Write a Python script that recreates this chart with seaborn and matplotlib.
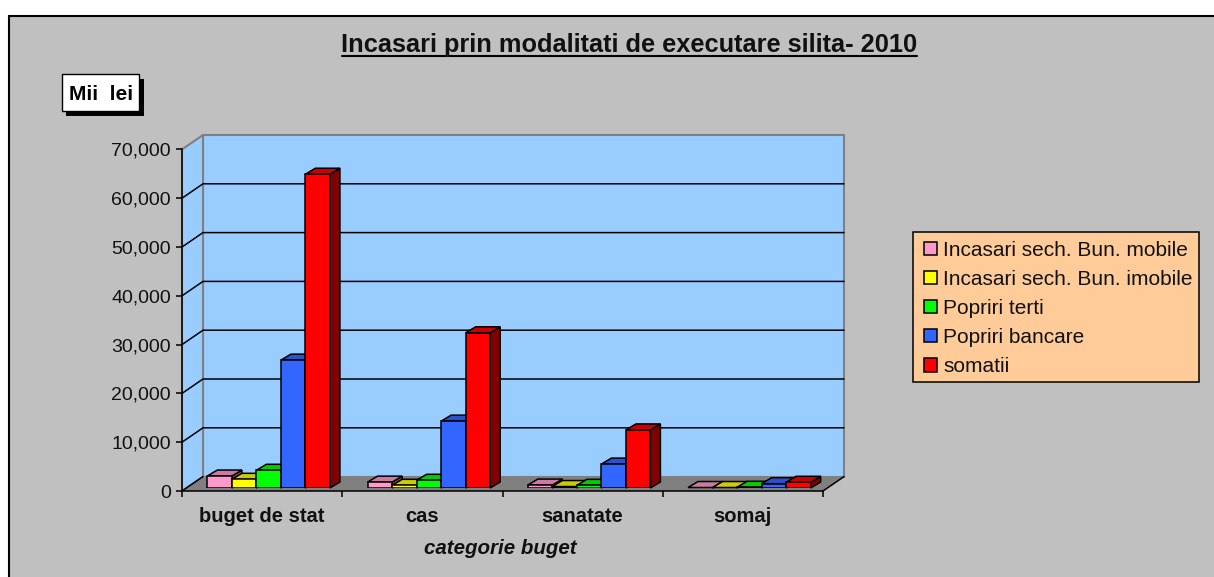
import matplotlib
matplotlib.use('Agg')
import matplotlib.pyplot as plt
import pandas as pd
import seaborn as sns
from matplotlib.patches import Polygon, Rectangle
from matplotlib.lines import Line2D

W, H = 1214, 577

categories = ['buget de stat', 'cas', 'sanatate', 'somaj']
series = ['Incasari sech. Bun. mobile', 'Incasari sech. Bun. imobile',
          'Popriri terti', 'Popriri bancare', 'somatii']
mobile = [2450, 1200, 600, 100]
imobile = [1780, 550, 300, 100]
terti = [3630, 1580, 550, 150]
bancare = [26200, 13700, 4900, 880]
somatii = [64300, 31800, 11900, 1170]
y_ticks = [0, 10000, 20000, 30000, 40000, 50000, 60000, 70000]

front_colors = ['#FF99CC', '#FFFF00', '#00FF00', '#3366FF', '#FF0000']
top_colors = ['#CC7AA3', '#CCCC00', '#00CC00', '#2952CC', '#CC0000']
side_colors = ['#804D66', '#808000', '#008000', '#1A3380', '#800000']

rows = []
for name, vals in zip(series, [mobile, imobile, terti, bancare, somatii]):
    for cat, v in zip(categories, vals):
        rows.append({'categorie': cat, 'serie': name, 'valoare': v})
df = pd.DataFrame(rows)

sns.set_theme(style='white')
plt.rcParams['font.family'] = ['Liberation Sans', 'DejaVu Sans']

fig = plt.figure(figsize=(W / 100, H / 100), dpi=100, facecolor='white')


def box(x0, y_top, x1, y_bot):
    # pixel box (y from the top) to figure fractions
    return [x0 / W, 1 - y_bot / H, (x1 - x0) / W, (y_bot - y_top) / H]


# grey chart area, right and bottom edges run off the canvas
fig.add_artist(Rectangle((9 / W, -0.1), 1.2, 1.1 - 15.5 / H, transform=fig.transFigure,
                         facecolor='#C0C0C0', edgecolor='black', linewidth=1.5, zorder=-5))

ax = fig.add_axes(box(182, 149.4, 823, 491), facecolor='none', zorder=1)
bars_ax = fig.add_axes(box(188.5, 146.4, 829.5, 488), facecolor='none', zorder=2)

sns.barplot(df, x='categorie', y='valoare', hue='serie', hue_order=series, order=categories,
            palette=front_colors, saturation=1, width=0.765, gap=0, edgecolor='black',
            linewidth=1.1, ax=bars_ax)
handles, labels = bars_ax.get_legend_handles_labels()
bars_ax.get_legend().remove()
bars_ax.set_xlim(-0.5, 3.5)
bars_ax.set_ylim(0, 70000)
bars_ax.axis('off')

px_x = 641 / 4
px_y = 341.6 / 70000

# bar depth: side and top faces built from the seaborn bars
dx, dy = 10 / px_x, 6 / px_y
for j, cont in enumerate(bars_ax.containers):
    for bar in cont:
        x0, x1, h = bar.get_x(), bar.get_x() + bar.get_width(), bar.get_height()
        bar.set_zorder(10 + 3 * j)
        bars_ax.add_patch(Polygon([(x1, 0), (x1 + dx, dy), (x1 + dx, h + dy), (x1, h)],
                                  facecolor=side_colors[j], edgecolor='black', linewidth=1.1,
                                  clip_on=False, zorder=9 + 3 * j))
        bars_ax.add_patch(Polygon([(x0, h), (x0 + dx, h + dy), (x1 + dx, h + dy), (x1, h)],
                                  facecolor=top_colors[j], edgecolor='black', linewidth=1.1,
                                  clip_on=False, zorder=9 + 3 * j))

# walls and floor
ax.set_xlim(-0.5, 3.5)
ax.set_ylim(0, 70000)
wx, wy = 21 / px_x, 14.4 / px_y
ax.add_patch(Rectangle((-0.5 + wx, wy), 4, 70000, facecolor='#99CCFF', edgecolor='#808080',
                       linewidth=1.5, clip_on=False, zorder=0))
ax.add_patch(Polygon([(-0.5, 0), (-0.5 + wx, wy), (-0.5 + wx, 70000 + wy), (-0.5, 70000)],
                     facecolor='#99CCFF', edgecolor='#808080', linewidth=1.5, clip_on=False, zorder=0))
ax.add_patch(Polygon([(-0.5, 0), (-0.5 + wx, wy), (3.5 + wx, wy), (3.5, 0)],
                     facecolor='#808080', edgecolor='none', clip_on=False, zorder=0.5))
for t in y_ticks[1:-1]:
    ax.add_line(Line2D([-0.5, -0.5 + wx, 3.5 + wx], [t, t + wy, t + wy], color='black',
                       linewidth=1.1, clip_on=False, zorder=1))
ax.add_line(Line2D([-0.5, -0.5 + wx], [0, wy], color='black', linewidth=1.1, clip_on=False, zorder=1))
ax.add_line(Line2D([3.5, 3.5 + wx], [0, wy], color='black', linewidth=1.1, clip_on=False, zorder=1))

# axes, ticks
sns.despine(ax=ax, top=True, right=True)
for side in ['left', 'bottom']:
    ax.spines[side].set_color('black')
    ax.spines[side].set_linewidth(1.1)
ax.set_yticks(y_ticks, [f'{t:,}' for t in y_ticks])
ax.set_xticks([-0.5, 0.5, 1.5, 2.5, 3.5], [''] * 5)
ax.set_xticks([0, 1, 2, 3], categories, minor=True)
ax.tick_params(axis='y', left=True, length=4, width=1.1, color='black', labelsize=14,
               labelcolor='#111111', pad=4)
ax.tick_params(axis='x', which='major', bottom=True, length=4, width=1.1, color='black')
ax.tick_params(axis='x', which='minor', bottom=False, labelsize=14.5, pad=7.5)
for lab in ax.get_xticklabels(minor=True):
    lab.set_fontweight('bold')
    lab.set_color('#111111')
ax.set_xlabel('categorie buget', fontsize=14.8, fontweight='bold', fontstyle='italic',
              color='#111111', va='center')
ax.xaxis.set_label_coords((500 - 182) / 641, -(548 - 491) / 341.6)
ax.set_ylabel('')

# legend: box drawn to its own size, frameless legend placed inside it
fig.add_artist(Rectangle((913 / W, 1 - 382 / H), 286 / W, 149.5 / H, transform=fig.transFigure,
                         facecolor='#FFCC99', edgecolor='black', linewidth=1.1))
leg = fig.legend(handles, labels, loc='upper left', bbox_to_anchor=(924 / W, 1 - 240.5 / H),
                 borderaxespad=0, borderpad=0, fontsize=15, frameon=False,
                 handlelength=0.6, handleheight=0.6, handletextpad=0.33, labelspacing=0.49,
                 labelcolor='#111111')
for patch in leg.get_patches():
    patch.set_edgecolor('black')
    patch.set_linewidth(1.1)

# title with underline
fig.text(629.5 / W, 1 - 52 / H, 'Incasari prin modalitati de executare silita- 2010', ha='center',
         va='baseline', fontsize=18.3, fontweight='bold', color='#111111')
fig.add_artist(Line2D([342 / W, 917 / W], [1 - 56 / H, 1 - 56 / H], color='black', linewidth=1.5))

# "Mii lei" box with shadow
fig.add_artist(Rectangle((66 / W, 1 - 116 / H), 78 / W, 37 / H, transform=fig.transFigure,
                         facecolor='black', edgecolor='none'))
fig.add_artist(Rectangle((62 / W, 1 - 111 / H), 77 / W, 36.5 / H, transform=fig.transFigure,
                         facecolor='white', edgecolor='black', linewidth=1))
fig.text(101.5 / W, 1 - 100 / H, 'Mii  lei', ha='center', va='baseline', fontsize=15,
         fontweight='bold', color='black')

fig.savefig('out.png', dpi=100)
